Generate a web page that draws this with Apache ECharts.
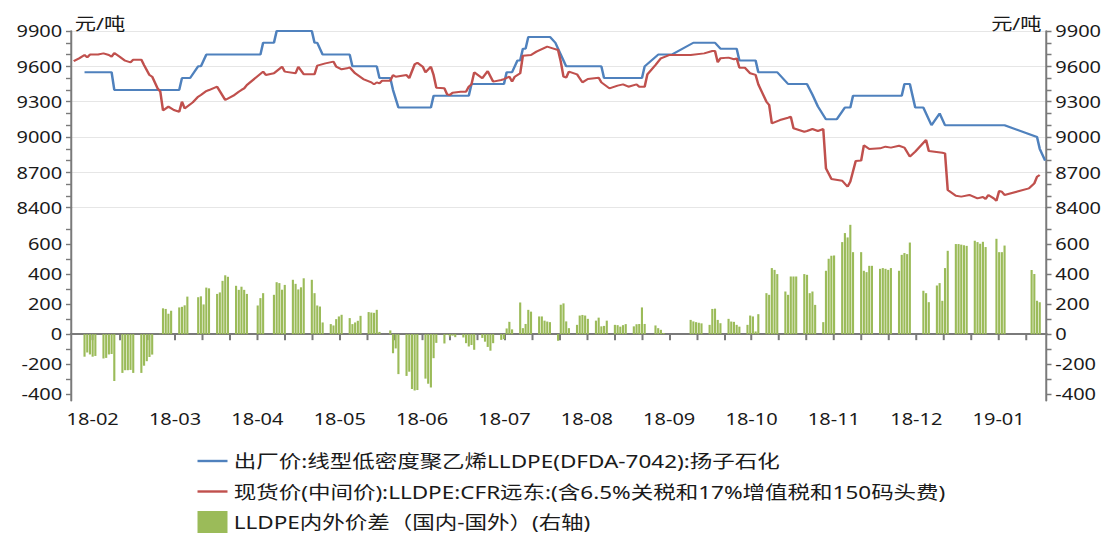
<!DOCTYPE html>
<html>
<head>
<meta charset="utf-8">
<title>LLDPE内外价差</title>
<script src="https://cdn.jsdelivr.net/npm/echarts@6.0.0/dist/echarts.min.js"></script>
<style>
  html, body { margin: 0; padding: 0; background: #fff; overflow: hidden; }
  /* the source picture is stretched sideways: draw narrower, then widen */
  #chart { width: 886.4px; height: 534px; transform: scaleX(1.25); transform-origin: 0 0; }
</style>
</head>
<body>
<div id="chart"></div>
<script>
// 出厂价:扬子石化 (breakpoints of the daily line)
const blueDates = [
  '2018-01-29','2018-02-08','2018-02-09','2018-03-05','2018-03-06','2018-03-09','2018-03-12','2018-03-13',
  '2018-03-15','2018-04-04','2018-04-05','2018-04-09','2018-04-10','2018-04-23','2018-04-24','2018-04-25',
  '2018-04-27','2018-05-07','2018-05-08','2018-05-17','2018-05-18','2018-05-22','2018-05-23','2018-05-25',
  '2018-06-06','2018-06-07','2018-06-20','2018-06-21','2018-07-03','2018-07-04','2018-07-06','2018-07-08',
  '2018-07-09','2018-07-10','2018-07-11','2018-07-12','2018-07-20','2018-07-22','2018-07-24','2018-07-26',
  '2018-08-08','2018-08-09','2018-08-23','2018-08-24','2018-08-29','2018-09-03','2018-09-11','2018-09-19',
  '2018-09-21','2018-09-27','2018-09-28','2018-10-04','2018-10-05','2018-10-12','2018-10-16','2018-10-23',
  '2018-10-25','2018-10-27','2018-10-30','2018-11-03','2018-11-06','2018-11-08','2018-11-09','2018-11-27',
  '2018-11-28','2018-11-30','2018-12-02','2018-12-05','2018-12-08','2018-12-11','2018-12-13','2019-01-04',
  '2019-01-16','2019-01-17','2019-01-19'
];
const blueValues = [
  9550, 9550, 9400, 9400, 9500, 9500, 9600, 9600,
  9700, 9700, 9800, 9800, 9900, 9900, 9800, 9800,
  9700, 9700, 9600, 9600, 9500, 9500, 9400, 9250,
  9250, 9350, 9350, 9450, 9450, 9550, 9550, 9650,
  9650, 9750, 9750, 9850, 9850, 9800, 9700, 9600,
  9600, 9500, 9500, 9600, 9700, 9700, 9800, 9800,
  9750, 9750, 9650, 9650, 9550, 9550, 9450, 9450,
  9360, 9260, 9150, 9150, 9250, 9250, 9350, 9350,
  9450, 9450, 9250, 9250, 9100, 9200, 9100, 9100,
  9000, 8900, 8800
];

// 现货价 CFR远东
const redDates = [
  '2018-01-25','2018-01-27','2018-01-29','2018-01-30','2018-01-31','2018-02-03','2018-02-05','2018-02-07',
  '2018-02-08','2018-02-09','2018-02-11','2018-02-13','2018-02-15','2018-02-16','2018-02-19','2018-02-20',
  '2018-02-22','2018-02-23','2018-02-25','2018-02-26','2018-02-27','2018-03-01','2018-03-03','2018-03-05',
  '2018-03-06','2018-03-07','2018-03-10','2018-03-12','2018-03-13','2018-03-15','2018-03-16','2018-03-19',
  '2018-03-22','2018-03-25','2018-03-27','2018-03-28','2018-03-29','2018-03-30','2018-04-05','2018-04-06',
  '2018-04-09','2018-04-12','2018-04-13','2018-04-17','2018-04-18','2018-04-20','2018-04-24','2018-04-25',
  '2018-04-28','2018-05-01','2018-05-02','2018-05-04','2018-05-06','2018-05-07','2018-05-09','2018-05-12',
  '2018-05-15','2018-05-16','2018-05-17','2018-05-18','2018-05-19','2018-05-22','2018-05-23','2018-05-24',
  '2018-05-28','2018-05-29','2018-05-31','2018-06-01','2018-06-03','2018-06-04','2018-06-06','2018-06-07',
  '2018-06-08','2018-06-11','2018-06-12','2018-06-13','2018-06-14','2018-06-17','2018-06-19','2018-06-20',
  '2018-06-21','2018-06-22','2018-06-25','2018-06-27','2018-06-29','2018-07-02','2018-07-03','2018-07-05',
  '2018-07-06','2018-07-07','2018-07-09','2018-07-10','2018-07-13','2018-07-15','2018-07-19','2018-07-21',
  '2018-07-23','2018-07-24','2018-07-25','2018-07-26','2018-07-27','2018-07-30','2018-07-31','2018-08-01',
  '2018-08-03','2018-08-07','2018-08-08','2018-08-11','2018-08-14','2018-08-16','2018-08-18','2018-08-21',
  '2018-08-22','2018-08-24','2018-08-25','2018-08-28','2018-08-30','2018-09-02','2018-09-10','2018-09-15',
  '2018-09-18','2018-09-19','2018-09-20','2018-09-21','2018-09-24','2018-09-26','2018-09-27','2018-09-28',
  '2018-09-30','2018-10-02','2018-10-04','2018-10-05','2018-10-08','2018-10-09','2018-10-10','2018-10-13',
  '2018-10-16','2018-10-17','2018-10-18','2018-10-22','2018-10-23','2018-10-25','2018-10-27','2018-10-29',
  '2018-10-30','2018-11-01','2018-11-05','2018-11-07','2018-11-08','2018-11-10','2018-11-12','2018-11-13',
  '2018-11-15','2018-11-19','2018-11-21','2018-11-23','2018-11-26','2018-11-28','2018-11-30','2018-12-02',
  '2018-12-06','2018-12-07','2018-12-12','2018-12-13','2018-12-14','2018-12-17','2018-12-19','2018-12-22',
  '2018-12-25','2018-12-27','2018-12-28','2018-12-29','2018-12-31','2019-01-01','2019-01-02','2019-01-03',
  '2019-01-04','2019-01-13','2019-01-15','2019-01-16','2019-01-17'
];
const redValues = [
  9645, 9668, 9696, 9676, 9700, 9700, 9710, 9696,
  9682, 9713, 9682, 9648, 9634, 9657, 9657, 9611,
  9526, 9512, 9413, 9385, 9226, 9258, 9229, 9215,
  9300, 9243, 9294, 9342, 9357, 9390, 9399, 9427,
  9314, 9351, 9385, 9400, 9413, 9442, 9555, 9527,
  9541, 9597, 9555, 9541, 9597, 9532, 9532, 9606,
  9625, 9640, 9597, 9575, 9583, 9591, 9541, 9492,
  9464, 9447, 9464, 9456, 9478, 9478, 9526, 9512,
  9526, 9500, 9617, 9631, 9597, 9549, 9597, 9526,
  9419, 9413, 9362, 9357, 9376, 9385, 9385, 9427,
  9447, 9549, 9498, 9560, 9470, 9484, 9492, 9512,
  9470, 9512, 9541, 9690, 9696, 9725, 9767, 9753,
  9739, 9640, 9512, 9504, 9555, 9532, 9498, 9464,
  9492, 9504, 9464, 9413, 9436, 9447, 9427, 9447,
  9427, 9427, 9532, 9611, 9668, 9696, 9696, 9710,
  9730, 9730, 9634, 9668, 9674, 9660, 9668, 9589,
  9589, 9541, 9527, 9447, 9300, 9272, 9116, 9144,
  9164, 9173, 9074, 9045, 9051, 9068, 9051, 9068,
  8734, 8644, 8629, 8578, 8621, 8796, 8800, 8930,
  8898, 8904, 8918, 8910, 8926, 8910, 8833, 8876,
  8975, 8881, 8867, 8861, 8550, 8502, 8494, 8508,
  8479, 8491, 8474, 8508, 8479, 8459, 8542, 8536,
  8508, 8564, 8607, 8663, 8678
];

// 内外价差: one row per week (Mon..Fri), null = no value that day
const spreadWeeks = [
  '2018-01-29','2018-02-05','2018-02-12','2018-02-19','2018-02-26','2018-03-05','2018-03-12','2018-03-19',
  '2018-03-26','2018-04-02','2018-04-09','2018-04-16','2018-04-23','2018-04-30','2018-05-07','2018-05-14',
  '2018-05-21','2018-05-28','2018-06-04','2018-06-11','2018-06-18','2018-06-25','2018-07-02','2018-07-09',
  '2018-07-16','2018-07-23','2018-07-30','2018-08-06','2018-08-13','2018-08-20','2018-08-27','2018-09-10',
  '2018-09-17','2018-09-24','2018-10-01','2018-10-08','2018-10-15','2018-10-22','2018-10-29','2018-11-05',
  '2018-11-12','2018-11-19','2018-11-26','2018-12-03','2018-12-10','2018-12-17','2018-12-24','2018-12-31',
  '2019-01-14'
];
const spreadValues = [
  [-150, -122, -135, -150, -145], [-162, -158, -135, -132, -312], [-258, -240, -240, -238, -258],
  [-258, -210, -180, -152, -136], [3, 172, 168, 136, 156], [178, 182, 192, 250, null],
  [246, 252, 198, 310, 305], [268, 278, 355, 392, 382], [322, 295, 316, 295, 268],
  [null, 191, 240, 273, null], [262, 346, 340, 296, 328], [362, 335, 298, 312, 372],
  [362, 273, 191, 184, 78], [67, 58, 100, 118, 129], [107, 67, 78, 89, 122],
  [147, 144, 142, 162, 15], [null, 25, -127, -95, -266], [-278, -250, -365, -375, -372],
  [-296, -330, -355, -160, -58], [-62, -5, -16, -10, -20], [-22, -60, -82, -72, -104],
  [-25, -50, -85, -110, -60], [-38, -33, 38, 82, 32], [211, 40, 68, 162, 150],
  [118, 118, 90, 84, 80], [-44, 196, 205, 85, 40], [62, 124, 128, 124, 102],
  [90, 110, 52, 55, 90], [62, 60, 50, 60, 67], [52, 66, 68, 178, 68],
  [null, 58, 40, 29, 8], [95, 85, 80, 76, 72], [62, 168, 170, 95, 73],
  [102, 84, 82, 62, 50], [62, 124, 118, 18, 133], [273, 262, 440, 428, 400],
  [284, 262, 384, 384, 384], [400, 395, 273, 284, 195], [80, 422, 502, 522, 524],
  [613, 673, 644, 728, 546], [546, 422, 413, 455, 455], [435, 440, 435, 428, 440],
  [422, 528, 540, 533, 610], [null, null, 289, 273, 213], [324, 340, 222, 440, 555],
  [600, 600, 596, 592, 588], [622, 613, 602, 615, 580], [null, 635, 546, 546, 590],
  [428, 400, 222, 213, null]
];

const monthLabels = ['18-02','18-03','18-04','18-05','18-06','18-07','18-08','18-09','18-10','18-11','18-12','19-01'];
const spreadLabels = [-400, -200, 0, 200, 400, 600];
const spreadTicks = [-400, -300, -200, -100, 0, 100, 200, 300, 400, 500, 600, 700];

const blueName = '出厂价:线型低密度聚乙烯LLDPE(DFDA-7042):扬子石化';
const redName = '现货价(中间价):LLDPE:CFR远东:(含6.5%关税和17%增值税和150码头费)';
const barName = 'LLDPE内外价差（国内-国外）(右轴)';

const DAY = 24 * 3600 * 1000;
const xMin = Date.parse('2018-01-24');
const xMax = Date.parse('2019-01-19') + DAY / 2;
const firstMonth = Date.parse('2018-02-01');
const monthStep = 365.25 / 12 * DAY;   // the source axis spaces its months evenly
const labelValues = monthLabels.map((m, i) => firstMonth + i * monthStep);
const tickValues = [];
for (let t = firstMonth; t <= xMax; t += monthStep / 3) tickValues.push(t);

const toPairs = (dates, values) => dates.map((d, i) => [Date.parse(d), values[i]]);
const spreadData = [];
spreadWeeks.forEach((w, i) => {
  spreadValues[i].forEach((v, j) => {
    if (v !== null) spreadData.push([Date.parse(w) + j * DAY, v]);
  });
});

const FONT = "'Noto Sans', 'Noto Sans CJK SC', sans-serif";
const axisColor = '#7a7a7a';
const textColor = '#1a1a1a';

function priceAxis(position) {
  return {
    type: 'value', gridIndex: 0, position: position,
    min: 8400, max: 9900, interval: 300,
    name: '元/吨', nameLocation: 'end', nameGap: 8,
    nameTextStyle: {
      color: textColor, fontSize: 17, fontFamily: FONT, verticalAlign: 'middle',
      align: position === 'left' ? 'left' : 'right',
      padding: position === 'left' ? [0, 0, 0, 3] : [0, 4, 0, 0]
    },
    axisLine: { show: true, lineStyle: { color: axisColor, width: 1.6 } },
    axisTick: { show: true, length: 4, lineStyle: { color: axisColor, width: 1.4 } },
    minorTick: { show: true, splitNumber: 3, length: 4, lineStyle: { color: axisColor, width: 1.4 } },
    axisLabel: { color: textColor, fontSize: 16, fontFamily: FONT, margin: 7, formatter: v => String(v) },
    splitLine: { show: position === 'left', lineStyle: { color: '#e6e6e6', width: 1 } }
  };
}

function spreadAxis(position) {
  return {
    type: 'value', gridIndex: 1, position: position,
    min: -443, max: 842,
    axisLine: { show: true, lineStyle: { color: axisColor, width: 1.6 } },
    axisTick: { show: true, length: 4, customValues: spreadTicks, lineStyle: { color: axisColor, width: 1.4 } },
    axisLabel: { color: textColor, fontSize: 16, fontFamily: FONT, margin: 7, customValues: spreadLabels, formatter: v => String(v) },
    splitLine: { show: false }
  };
}

const chart = echarts.init(document.getElementById('chart'), null, { renderer: 'svg' });
chart.setOption({
  animation: false,
  backgroundColor: '#fff',
  grid: [
    { left: 56.8, right: 48.8, top: 31, height: 176.7 },
    { left: 56.8, right: 48.8, top: 207.7, height: 193 }
  ],
  legend: {
    orient: 'vertical', left: 158, top: 450, height: 100, padding: 0,
    itemWidth: 24, itemHeight: 22, itemGap: 8.5,
    textStyle: { color: textColor, fontSize: 18, lineHeight: 22, fontFamily: FONT },
    data: [
      { name: blueName, icon: 'path://M0,0H30V3H0Z' },
      { name: redName, icon: 'path://M0,0H30V3H0Z' },
      { name: barName, icon: 'rect' }
    ]
  },
  xAxis: [
    { type: 'value', gridIndex: 0, min: xMin, max: xMax, show: false },
    {
      type: 'value', gridIndex: 1, min: xMin, max: xMax,
      axisLine: { show: true, lineStyle: { color: axisColor, width: 2 } },
      axisTick: { show: true, length: 6, customValues: tickValues, lineStyle: { color: axisColor, width: 1.6 } },
      axisLabel: {
        color: textColor, fontSize: 16, fontFamily: FONT, margin: 10,
        customValues: labelValues,
        formatter: v => monthLabels[Math.round((v - firstMonth) / monthStep)]
      },
      splitLine: { show: false }
    }
  ],
  yAxis: [priceAxis('left'), priceAxis('right'), spreadAxis('left'), spreadAxis('right')],
  series: [
    {
      name: blueName, type: 'line', xAxisIndex: 0, yAxisIndex: 0,
      data: toPairs(blueDates, blueValues), showSymbol: false, symbol: 'none',
      lineStyle: { color: '#4f81bd', width: 2 }, itemStyle: { color: '#4f81bd' }
    },
    {
      name: redName, type: 'line', xAxisIndex: 0, yAxisIndex: 0,
      data: toPairs(redDates, redValues), showSymbol: false, symbol: 'none',
      lineStyle: { color: '#c0504d', width: 2 }, itemStyle: { color: '#c0504d' }
    },
    {
      name: barName, type: 'bar', xAxisIndex: 1, yAxisIndex: 2,
      data: spreadData, barWidth: 1.7,
      itemStyle: { color: '#9bbb59' }
    }
  ]
});
</script>
</body>
</html>
